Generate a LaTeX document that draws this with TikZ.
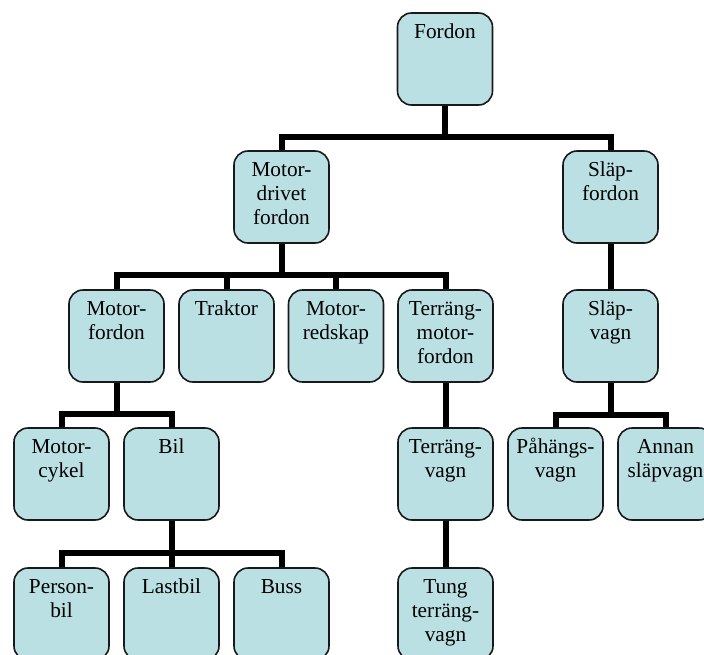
\documentclass[tikz,border=0pt]{standalone}
\usepackage{fontspec}
\setmainfont{Liberation Serif}
\usetikzlibrary{backgrounds}
\definecolor{boxfill}{RGB}{186,224,228}
\tikzset{
  box/.style={draw=black!90, line width=1.6pt, fill=boxfill, rounded corners=14pt,
    minimum width=95pt, minimum height=92pt, inner sep=0pt,
    font=\fontsize{21.3}{24}\selectfont},
  conn/.style={line width=6pt, line join=miter, draw=black}
}
\newcommand{\bt}[1]{\parbox[c][92pt][t]{95pt}{\centering\rule{0pt}{25pt}#1}}
\begin{document}
\begin{tikzpicture}[x=1pt,y=-1pt]
\useasboundingbox (0,0) rectangle (704,654);
\clip (0,0) rectangle (704,654);
% row 1
\node[box] (fordon) at (445,59) {\bt{Fordon}};
% row 2
\node[box] (md) at (281.5,197) {\bt{Motor-\\drivet\\fordon}};
\node[box] (sf) at (610.5,197) {\bt{Släp-\\fordon}};
% row 3
\node[box] (mf) at (116.5,336) {\bt{Motor-\\fordon}};
\node[box] (tr) at (226.5,336) {\bt{Traktor}};
\node[box] (mr) at (336,336) {\bt{Motor-\\redskap}};
\node[box] (tmf) at (445.5,336) {\bt{Terräng-\\motor-\\fordon}};
\node[box] (sv) at (610.5,336) {\bt{Släp-\\vagn}};
% row 4
\node[box] (mc) at (61.5,474) {\bt{Motor-\\cykel}};
\node[box] (bil) at (171.5,474) {\bt{Bil}};
\node[box] (tv) at (445.5,474) {\bt{Terräng-\\vagn}};
\node[box] (phv) at (555.5,474) {\bt{Påhängs-\\vagn}};
\node[box] (asv) at (665.5,474) {\bt{Annan\\släpvagn}};
% row 5
\node[box] (pb) at (61.5,614) {\bt{Person-\\bil}};
\node[box] (lb) at (171.5,614) {\bt{Lastbil}};
\node[box] (bu) at (281.5,614) {\bt{Buss}};
\node[box] (ttv) at (445.5,614) {\bt{Tung\\terräng-\\vagn}};
\begin{scope}[on background layer]
\draw[conn] (fordon.south) -- ++(0,31) -| (md.north);
\draw[conn] (fordon.south) -- ++(0,31) -| (sf.north);
\draw[conn] (md.south) -- ++(0,31) -| (mf.north);
\draw[conn] (md.south) -- ++(0,31) -| (tr.north);
\draw[conn] (md.south) -- ++(0,31) -| (mr.north);
\draw[conn] (md.south) -- ++(0,31) -| (tmf.north);
\draw[conn] (sf.south) -- (sv.north);
\draw[conn] (mf.south) -- ++(0,31) -| (mc.north);
\draw[conn] (mf.south) -- ++(0,31) -| (bil.north);
\draw[conn] (tmf.south) -- (tv.north);
\draw[conn] (sv.south) -- ++(0,32) -| (phv.north);
\draw[conn] (sv.south) -- ++(0,32) -| (asv.north);
\draw[conn] (bil.south) -- ++(0,32) -| (pb.north);
\draw[conn] (bil.south) -- ++(0,32) -| (lb.north);
\draw[conn] (bil.south) -- ++(0,32) -| (bu.north);
\draw[conn] (tv.south) -- (ttv.north);
\end{scope}
\end{tikzpicture}
\end{document}
